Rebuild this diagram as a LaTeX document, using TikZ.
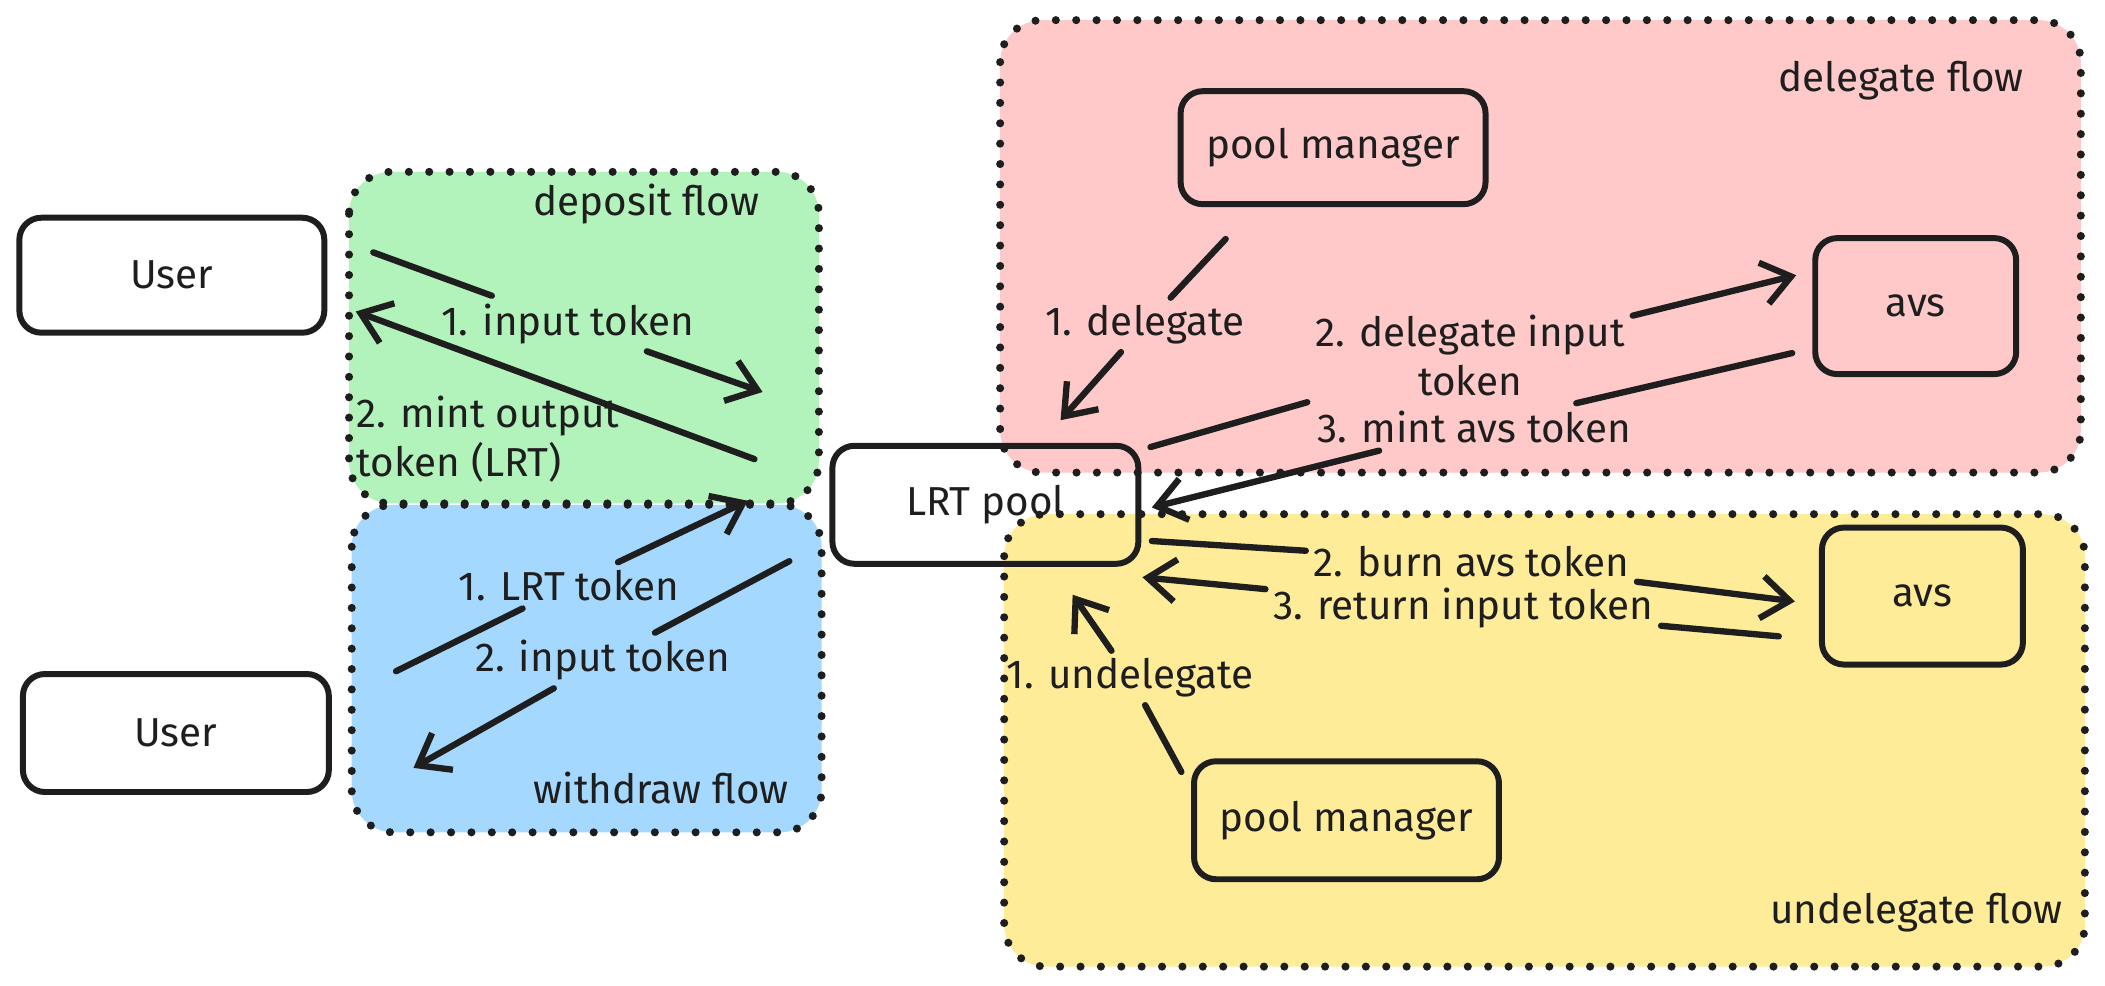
\documentclass[tikz,border=0pt]{standalone}
\usepackage{fontspec}
\setmainfont{Fira Sans}
\usetikzlibrary{arrows.meta,calc}
\definecolor{ink}{HTML}{1E1E1E}
\definecolor{grn}{HTML}{B2F2BB}
\definecolor{blu}{HTML}{A5D8FF}
\definecolor{pnk}{HTML}{FFC9C9}
\definecolor{ylw}{HTML}{FFEC99}
\tikzset{
  region/.style={draw=ink, line width=2.3pt, dash pattern=on 0pt off 5.8pt, line cap=round, rounded corners=0.42cm},
  box/.style={draw=ink, line width=1.7pt, rounded corners=0.22cm, align=center, text=ink},
  lbl/.style={text=ink, inner sep=2pt, align=center},
  ttl/.style={text=ink, inner sep=0pt},
  ln/.style={draw=ink, line width=1.8pt, line cap=round},
  arr/.style={ln, -{Straight Barb[length=8pt,width=12pt,line width=1.8pt]}},
}
\begin{document}
\begin{tikzpicture}[x=0.013425cm, y=-0.013425cm, font=\fontsize{11.5}{14}\selectfont]
\useasboundingbox (0,0) rectangle (1568,734);
\fill[white] (0,0) rectangle (1568,734);
% regions
\path[region, fill=grn] (260,128) rectangle (610,375);
\path[region, fill=blu] (262,376) rectangle (612,620);
\path[region, fill=pnk] (745,15) rectangle (1550,352);
\path[region, fill=ylw] (748,383) rectangle (1553,720);
\node[ttl, anchor=east] (tdep) at (566,152) {deposit flow};
\node[ttl, anchor=east] (twd) at (588,587) {withdraw flow};
\node[ttl, anchor=east] (tdel) at (1508,60) {delegate flow};
\node[ttl, anchor=east] (tund) at (1537,680) {undelegate flow};
% nodes
\node[box, minimum width=3.05cm, minimum height=1.15cm] (user1) at (128,205) {User};
\node[box, minimum width=3.06cm, minimum height=1.18cm] (user2) at (131,546) {User};
\node[box, minimum width=3.06cm, minimum height=1.18cm] (lrt) at (734,376) {LRT pool};
\node[box, minimum width=3.05cm, minimum height=1.13cm] (pm1) at (993,110) {pool manager};
\node[box, minimum width=2.01cm, minimum height=1.36cm] (avs1) at (1427,228) {avs};
\node[box, minimum width=2.01cm, minimum height=1.37cm] (avs2) at (1432,444) {avs};
\node[box, minimum width=3.05cm, minimum height=1.18cm] (pm2) at (1003,611) {pool manager};
% connector end points
\coordinate (a1s) at (278,188);  \coordinate (a1e) at (568,292);
\coordinate (a2s) at (562,342);  \coordinate (a2e) at (265,232);
\coordinate (w1s) at (295,500);  \coordinate (w1e) at (557,373);
\coordinate (w2s) at (588,418);  \coordinate (w2e) at (308,572);
\coordinate (d1s) at (913,178);  \coordinate (d1e) at (790,313);
\coordinate (d2s) at (857,333);  \coordinate (d2e) at (1338,205);
\coordinate (d3s) at (1335,263); \coordinate (d3e) at (858,378);
\coordinate (u1s) at (880,575);  \coordinate (u1e) at (799,443);
\coordinate (u2s) at (858,403);  \coordinate (u2e) at (1337,448);
\coordinate (u3s) at (1325,474); \coordinate (u3e) at (851,430);
% labels
\node[lbl] (la1) at (423,241) {1. input token};
\node[lbl, align=left, anchor=west] (la2) at (260,327) {2. mint output\\token (LRT)};
\node[lbl] (lw1) at (424,436) {1. LRT token};
\node[lbl] (lw2) at (449,492) {2. input token};
\node[lbl] (ld1) at (853,242) {1. delegate};
\node[lbl] (ld2) at (1095,265) {2. delegate input\\token};
\node[lbl] (ld3) at (1098,318) {3. mint avs token};
\node[lbl] (lu1) at (842,505) {1. undelegate};
\node[lbl] (lu2) at (1096,418) {2. burn avs token};
\node[lbl] (lu3) at (1090,453) {3. return input token};
% connectors
\draw[ln] (a1s) -- (la1); \draw[arr] (la1) -- (a1e);
\draw[arr] (a2s) -- (a2e);
\draw[ln] (w1s) -- (lw1); \draw[arr] (lw1) -- (w1e);
\draw[ln] (w2s) -- (lw2); \draw[arr] (lw2) -- (w2e);
\draw[ln] (d1s) -- (ld1); \draw[arr] (ld1) -- (d1e);
\draw[ln] (d2s) -- (ld2); \draw[arr] (ld2) -- (d2e);
\draw[ln] (d3s) -- (ld3); \draw[arr] (ld3) -- (d3e);
\draw[ln] (u1s) -- (lu1); \draw[arr] (lu1) -- (u1e);
\draw[ln] (u2s) -- (lu2); \draw[arr] (lu2) -- (u2e);
\draw[ln] (u3s) -- (lu3); \draw[arr] (lu3) -- (u3e);
\end{tikzpicture}
\end{document}
